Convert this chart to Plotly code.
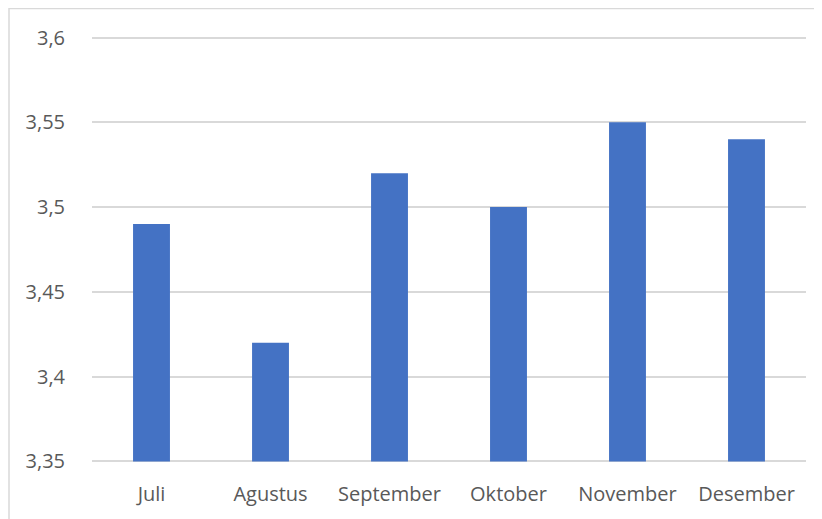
import plotly.graph_objects as go

months = ["Juli", "Agustus", "September", "Oktober", "November", "Desember"]
values = [3.49, 3.42, 3.52, 3.50, 3.55, 3.54]
y_ticks = [3.35, 3.40, 3.45, 3.50, 3.55, 3.60]
y_min, y_max = 3.35, 3.60

# page has an 8px body margin; figure coordinates are page coordinates minus 8
W, H = 814, 511
pad_units = 0.0015
px_per_unit = 423 / (y_max - y_min)
pad_px = pad_units * px_per_unit
L, R = 84, 16
T, B = 30 - pad_px, 58 - pad_px
pw, ph = W - L - R, H - T - B

fig = go.Figure(go.Bar(
    x=months, y=[v - y_min for v in values], base=y_min,
    customdata=values, hovertemplate="%{x}: %{customdata}<extra></extra>",
    marker=dict(color="#4472C4", line=dict(width=0))))

fig.update_layout(
    width=W, height=H,
    margin=dict(l=L, r=R, t=T, b=B, pad=0),
    paper_bgcolor="white", plot_bgcolor="white",
    separators=",.",
    bargap=0.69,
    showlegend=False,
    font=dict(family="Open Sans, sans-serif", size=20, color="#595959"),
    xaxis=dict(showgrid=False, showline=False, ticks="", zeroline=False,
               tickfont=dict(size=20, color="#595959"), ticklabelstandoff=16),
    yaxis=dict(range=[y_min - pad_units, y_max + pad_units], tickvals=y_ticks, showgrid=True,
               gridcolor="#D9D9D9", gridwidth=1.5, zeroline=False, showline=False, ticks="",
               tickfont=dict(size=20, color="#595959"), ticklabelstandoff=26),
    shapes=[dict(type="rect", xref="paper", yref="paper",
                 x0=(1 - L) / pw, x1=(830 - L) / pw,
                 y0=(H - B - 530) / ph, y1=(H - B - 1) / ph,
                 line=dict(color="#D9D9D9", width=1.5), fillcolor="rgba(0,0,0,0)", layer="below")],
)

fig.write_html("out.html")
